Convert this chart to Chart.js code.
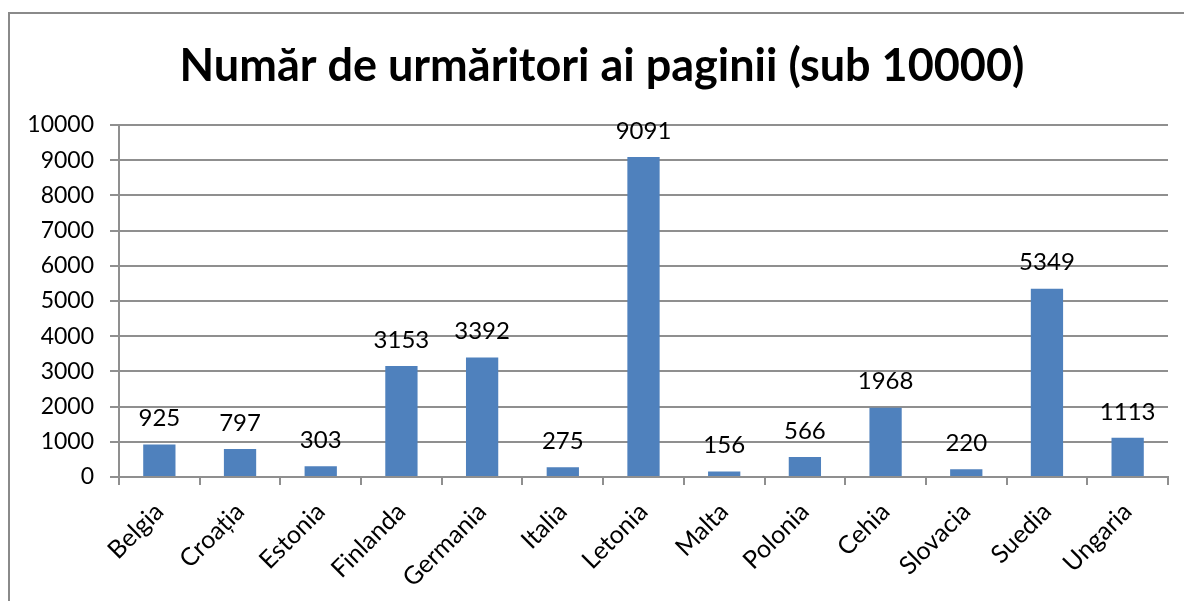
<!DOCTYPE html>
<html>
<head>
<meta charset="utf-8">
<script src="https://cdn.jsdelivr.net/npm/chart.js@4/dist/chart.umd.min.js"></script>
<style>
  html, body { margin: 0; padding: 0; background: #fff; overflow: hidden; }
  #wrap { width: 1184px; height: 601px; position: relative; }
</style>
</head>
<body>
<div id="wrap"><canvas id="c" width="1184" height="601"></canvas></div>
<script>
const chartTitle = 'Număr de urmăritori ai paginii (sub 10000)';
const categories = ['Belgia', 'Croația', 'Estonia', 'Finlanda', 'Germania', 'Italia', 'Letonia', 'Malta', 'Polonia', 'Cehia', 'Slovacia', 'Suedia', 'Ungaria'];
const followers = [925, 797, 303, 3153, 3392, 275, 9091, 156, 566, 1968, 220, 5349, 1113];
const yMin = 0, yMax = 10000, yStep = 1000;

const FONT = 'Lato, "Open Sans", sans-serif';
const GRID = '#8f8f8f';

const frameAndTitle = {
  id: 'frameAndTitle',
  beforeDraw(chart) {
    const ctx = chart.ctx;
    ctx.save();
    ctx.fillStyle = '#fff';
    ctx.fillRect(0, 0, chart.width, chart.height);
    ctx.strokeStyle = '#8a8a8a';
    ctx.lineWidth = 2;
    ctx.beginPath();
    ctx.moveTo(9, 605);
    ctx.lineTo(9, 13);
    ctx.lineTo(1190, 13);
    ctx.stroke();
    ctx.fillStyle = '#000';
    ctx.font = 'bold 45px ' + FONT;
    ctx.textAlign = 'center';
    ctx.textBaseline = 'middle';
    ctx.fillText(chartTitle, 602, 66);
    ctx.restore();
  }
};

const valueLabels = {
  id: 'valueLabels',
  afterDatasetsDraw(chart) {
    const ctx = chart.ctx;
    const meta = chart.getDatasetMeta(0);
    ctx.save();
    ctx.fillStyle = '#000';
    ctx.font = '24px ' + FONT;
    ctx.textAlign = 'center';
    ctx.textBaseline = 'middle';
    meta.data.forEach((bar, i) => {
      ctx.fillText(String(chart.data.datasets[0].data[i]), bar.x, bar.y - 26);
    });
    ctx.restore();
  }
};

new Chart(document.getElementById('c'), {
  type: 'bar',
  data: {
    labels: categories,
    datasets: [{
      data: followers,
      backgroundColor: '#4F81BD',
      borderWidth: 0,
      barPercentage: 0.4,
      categoryPercentage: 1.0
    }]
  },
  options: {
    responsive: false,
    animation: false,
    layout: { padding: { top: 125, left: 10, right: 16, bottom: 0 } },
    plugins: {
      legend: { display: false },
      title: { display: false },
      tooltip: { enabled: false }
    },
    scales: {
      x: {
        offset: true,
        grid: {
          offset: true,
          drawOnChartArea: false,
          drawTicks: true,
          tickLength: 8,
          color: GRID,
          lineWidth: 2
        },
        border: { display: true, color: GRID, width: 2 },
        ticks: {
          color: '#000',
          font: { family: FONT, size: 25 },
          minRotation: 45,
          maxRotation: 45,
          padding: 12,
          autoSkip: false
        },
        afterFit(scale) { scale.height = 124; }
      },
      y: {
        min: yMin,
        max: yMax,
        ticks: {
          stepSize: yStep,
          color: '#000',
          font: { family: FONT, size: 23 },
          padding: 16,
          callback: (v) => String(v)
        },
        grid: {
          color: GRID,
          lineWidth: 2,
          tickLength: 9
        },
        border: { display: true, color: GRID, width: 2 },
        afterFit(scale) { scale.width = 109; }
      }
    }
  },
  plugins: [frameAndTitle, valueLabels]
});
</script>
</body>
</html>
